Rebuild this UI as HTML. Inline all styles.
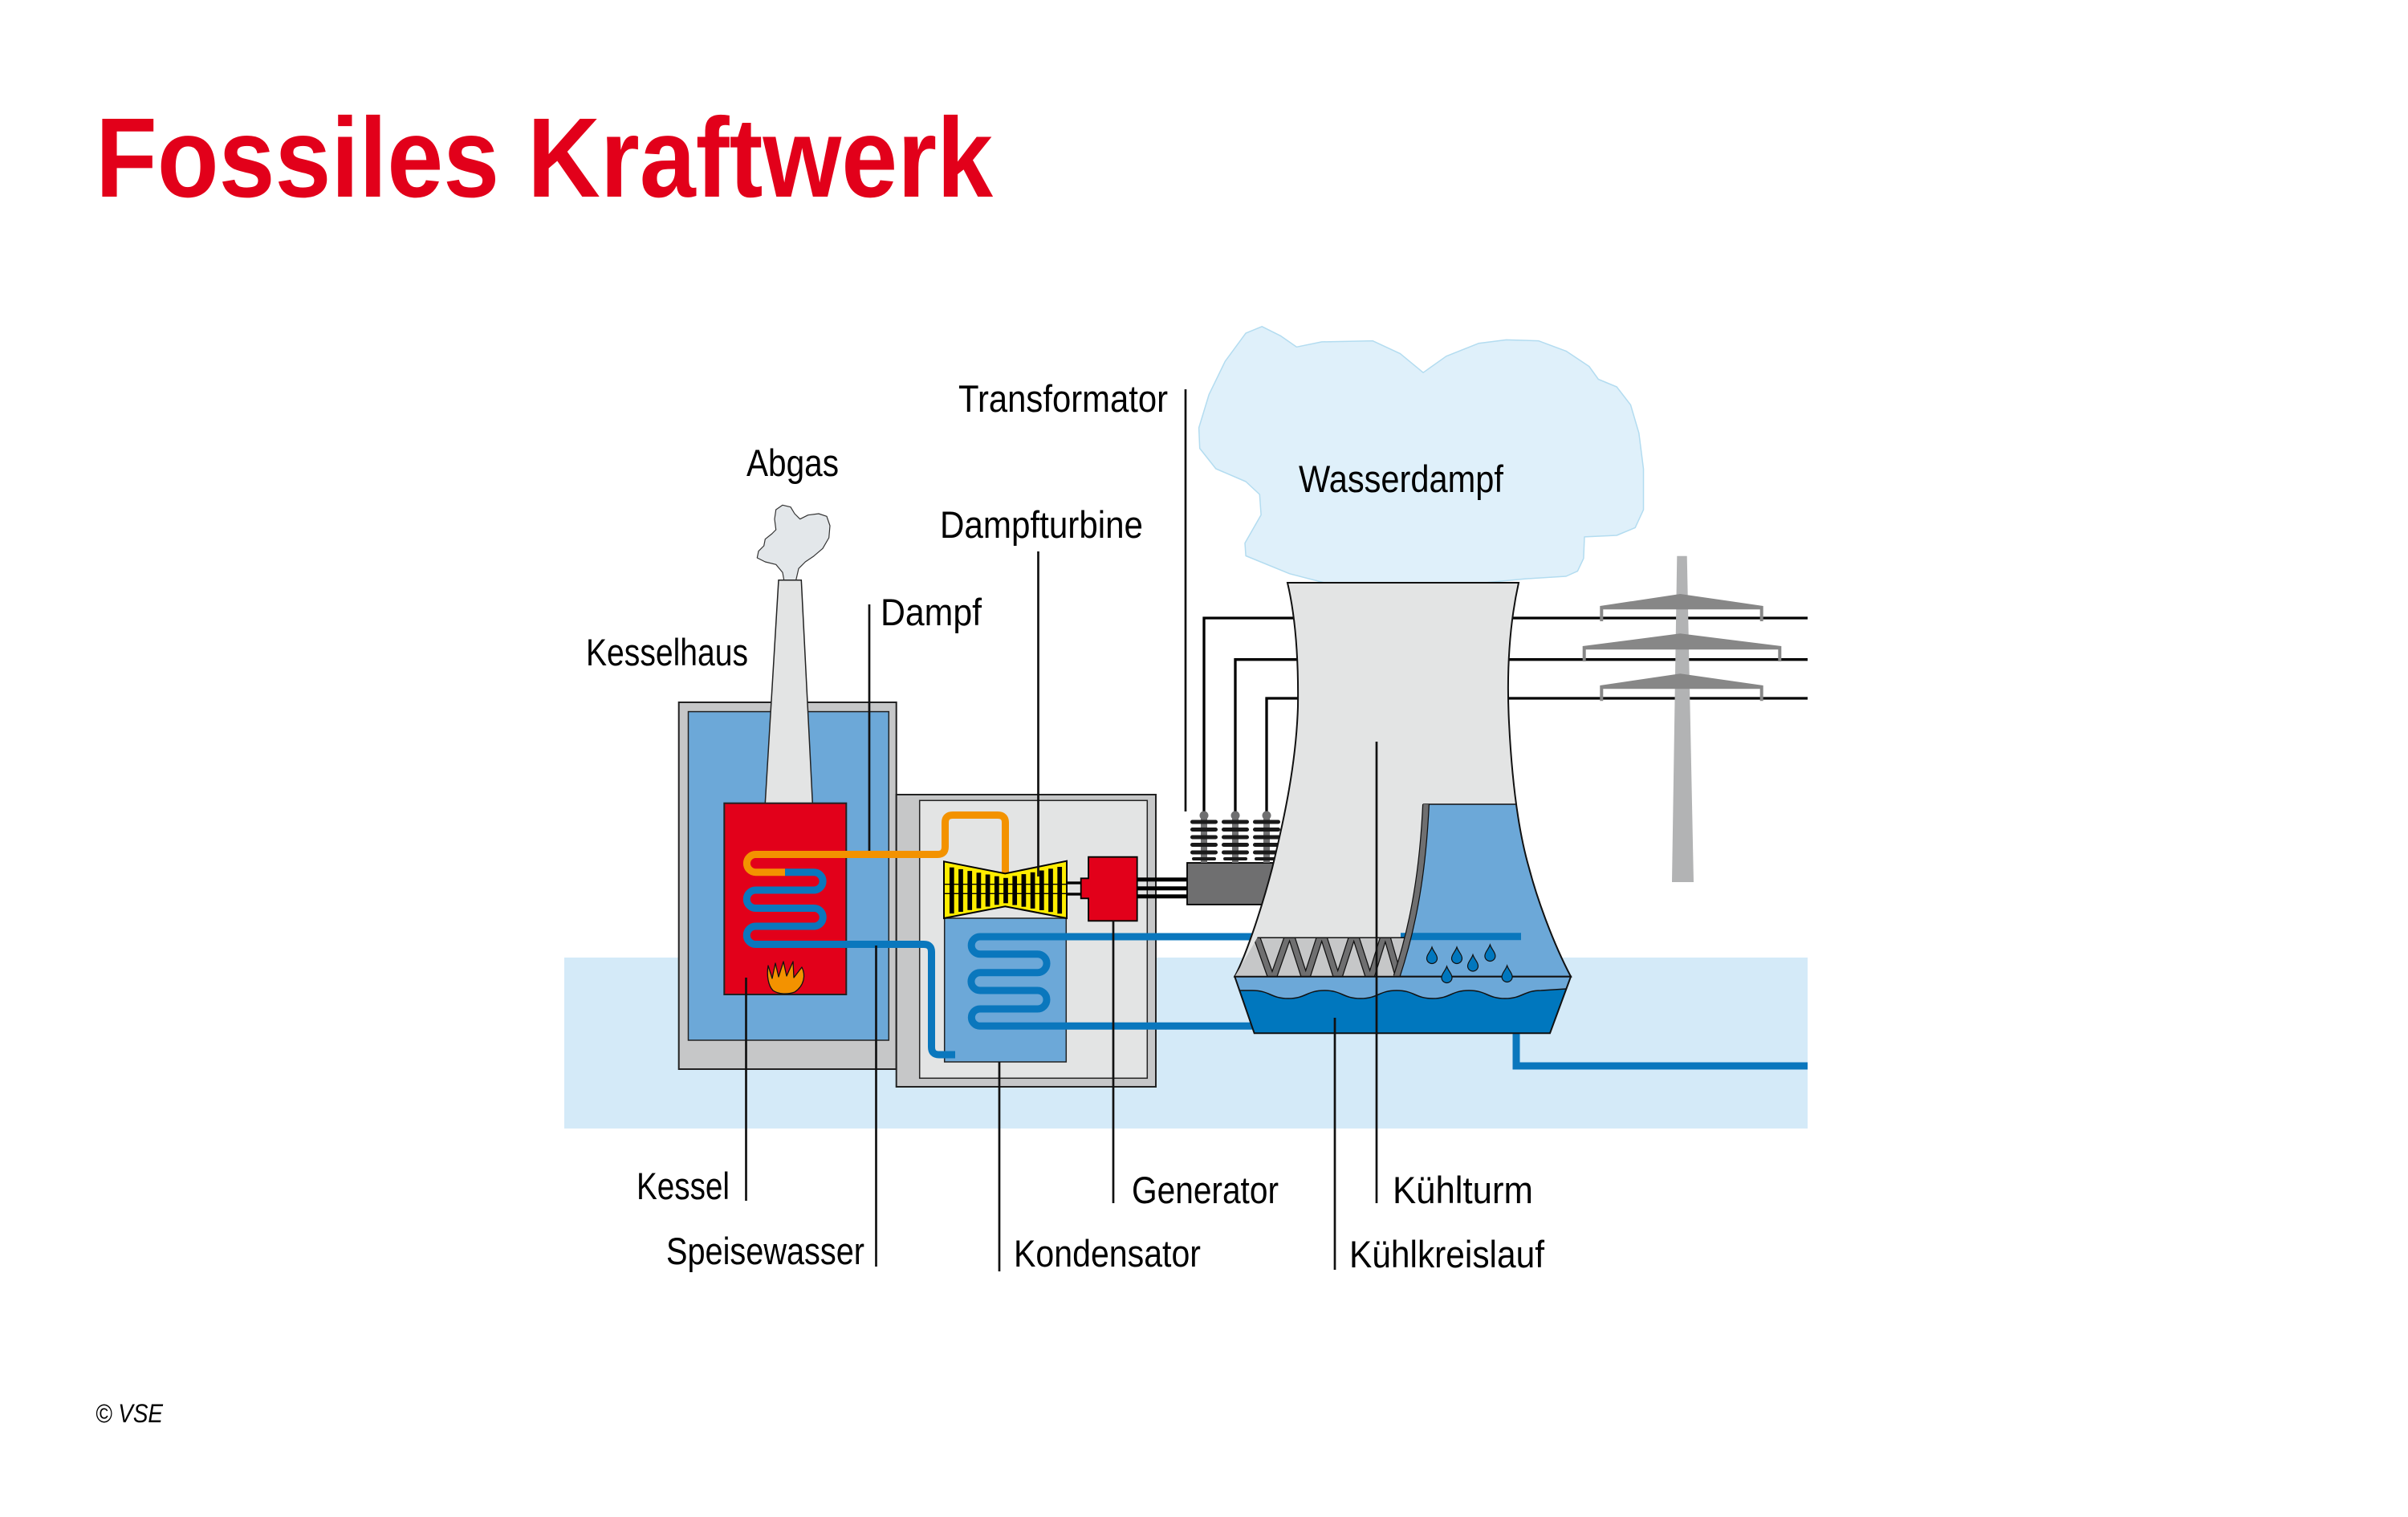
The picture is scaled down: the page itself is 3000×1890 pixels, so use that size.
<!DOCTYPE html>
<html><head><meta charset="utf-8"><style>html,body{margin:0;padding:0;background:#fff}svg{display:block}</style></head>
<body>
<svg width="3000" height="1890" viewBox="0 0 3000 1890" xmlns="http://www.w3.org/2000/svg">
<defs>
  <clipPath id="towerClip"><path d="M 1604,726 L 1892,726 C 1880,780 1877,840 1880,900 C 1883,960 1890,1030 1905,1081.5 C 1915,1120 1935,1175 1957,1216.7 L 1538.3,1216.7 C 1555,1185 1575,1120 1585,1081.5 C 1600,1020 1615,950 1617,880 C 1618,810 1612,760 1604,726 Z"/></clipPath>
  <clipPath id="latClip"><path d="M 1566.5,1168.3 L 1752,1168.3 L 1740,1216.7 L 1538.3,1216.7 Z"/></clipPath>
</defs>
<rect width="3000" height="1890" fill="#fff"/>

<!-- ground band -->
<rect x="703" y="1193" width="1549" height="213" fill="#d4eaf8"/>

<!-- cloud -->
<polygon points="1606.7,714.8 1552.1,692.5 1551,676.6 1571.1,641.5 1569.3,616 1552.1,600 1514.8,584 1494.7,558.6 1493.6,533 1506.2,491.6 1526.3,450.2 1552.1,415.1 1572.2,406.8 1595.2,418.3 1615.3,432.3 1646.8,425.9 1710,424.6 1744.4,440.6 1773.1,464.2 1801.8,443.8 1842,427.8 1876.5,423.4 1916.6,424.6 1951.1,437.4 1979.8,456.5 1991.3,472.5 2014.2,482 2031.5,504.4 2041.8,539.4 2047.5,584.1 2047.5,635.1 2037.2,657.4 2014.2,667 1974,668.9 1972.9,695.7 1965.4,711.6 1951.1,718 1899.4,721.2 1850,726 1650,726" fill="#dff0fa" stroke="#b3dcf0" stroke-width="1.5" stroke-linejoin="round"/>

<!-- smoke -->
<polygon points="976.7,722.7 975,713.3 966.7,703.3 953.3,700 943.3,695 945,686.7 951.7,680 953.3,671.7 961.7,665 966.7,660 965,646.7 966.7,635 975,629.3 985,631.7 990,640 996.7,646.7 1006.7,641.7 1020,640 1030,643.3 1034,655 1032.7,670 1025,683.3 1013.3,693.3 1003.3,700 995,708.3 991.7,722.7" fill="#e3e7ea" stroke="#333" stroke-width="1.2" stroke-linejoin="round"/>

<!-- Kesselhaus -->
<rect x="845.7" y="875" width="271" height="457" fill="#c6c7c8" stroke="#222" stroke-width="2"/>
<rect x="857.5" y="886.6" width="249.8" height="409.4" fill="#6ca8d8" stroke="#222" stroke-width="1.5"/>
<!-- Building 2 -->
<rect x="1116.7" y="990" width="323.3" height="364" fill="#c6c7c8" stroke="#222" stroke-width="2"/>
<rect x="1145.7" y="997.3" width="283.6" height="346" fill="#e3e4e4" stroke="#222" stroke-width="1.5"/>

<!-- chimney -->
<polygon points="970,722.7 998.3,722.7 1012.3,1000.7 953.3,1000.7" fill="#e3e4e4" stroke="#222" stroke-width="1.5"/>

<!-- boiler -->
<rect x="902.3" y="1000.7" width="152" height="238.3" fill="#e2001a" stroke="#222" stroke-width="2"/>
<!-- flame -->
<path d="M 963,1234 C 957,1228 955,1215 957,1203 L 962,1219 L 966,1200 L 970,1217 L 976,1198 L 980,1216 L 988,1198 L 989,1218 L 999,1205 C 1004,1215 1002,1228 990,1236 C 982,1239 970,1239 963,1234 Z" fill="#f39200" stroke="#111" stroke-width="1.3" stroke-linejoin="round"/>

<!-- condenser -->
<rect x="1176.7" y="1144" width="151.6" height="179" fill="#6ca8d8" stroke="#222" stroke-width="1.5"/>

<!-- pipes -->
<path d="M 978,1086.75 L 941.5,1086.75 A 11.125 11.125 0 0 1 941.5,1064.5 L 1168,1064.5 Q 1177.5,1064.5 1177.5,1055 L 1177.5,1025 Q 1177.5,1015.5 1187,1015.5 L 1243,1015.5 Q 1252.5,1015.5 1252.5,1025 L 1252.5,1090" fill="none" stroke="#f39200" stroke-width="9"/>
<path d="M 1190,1314 L 1170,1314 Q 1160.5,1314 1160.5,1304.5 L 1160.5,1186 Q 1160.5,1176.5 1151,1176.5 L 941.5,1176.5 A 11.25 11.25 0 0 1 941.5,1154 L 1014,1154 A 11.25 11.25 0 0 0 1014,1131.5 L 941.5,1131.5 A 11.25 11.25 0 0 1 941.5,1109 L 1014,1109 A 11.125 11.125 0 0 0 1014,1086.75 L 978,1086.75" fill="none" stroke="#0a77bd" stroke-width="9"/>
<path d="M 1895,1167 L 1221,1167 A 10.85 10.85 0 0 0 1221,1188.7 L 1292.5,1188.7 A 11.55 11.55 0 0 1 1292.5,1211.8 L 1221,1211.8 A 11.1 11.1 0 0 0 1221,1234 L 1292.5,1234 A 11.5 11.5 0 0 1 1292.5,1257 L 1221,1257 A 10.65 10.65 0 0 0 1221,1278.3 L 1561,1278.3" fill="none" stroke="#0a77bd" stroke-width="9"/>
<path d="M 1889,1280 L 1889,1328 L 2252,1328" fill="none" stroke="#0a77bd" stroke-width="9"/>

<!-- turbine -->
<polygon points="1176,1073.3 1252.3,1088.3 1329,1072.7 1329,1144 1252.3,1129.3 1176,1144" fill="#ffed00" stroke="#000" stroke-width="2"/>
<g fill="#000">
<rect x="1182.95" y="1080.7" width="5.7" height="57.4"/>
<rect x="1194.15" y="1082.9" width="5.7" height="53.1"/>
<rect x="1205.35" y="1085.1" width="5.7" height="48.7"/>
<rect x="1216.55" y="1087.3" width="5.7" height="44.3"/>
<rect x="1227.75" y="1089.5" width="5.7" height="40"/>
<rect x="1238.95" y="1091.7" width="5.7" height="35.6"/>
<rect x="1250.15" y="1093.8" width="5.7" height="31.5"/>
<rect x="1261.35" y="1091.4" width="5.7" height="36.2"/>
<rect x="1272.55" y="1089.1" width="5.7" height="40.6"/>
<rect x="1283.75" y="1086.8" width="5.7" height="45.1"/>
<rect x="1294.95" y="1084.5" width="5.7" height="49.5"/>
<rect x="1306.15" y="1082.3" width="5.7" height="53.9"/>
<rect x="1317.35" y="1080" width="5.7" height="58.3"/>
</g>
<line x1="1176" y1="1101.7" x2="1329" y2="1101.7" stroke="#000" stroke-width="1.3"/>
<line x1="1176" y1="1113.3" x2="1329" y2="1113.3" stroke="#000" stroke-width="1.3"/>
<!-- shaft -->
<rect x="1329" y="1098.3" width="18" height="3.4" fill="#000"/>
<rect x="1329" y="1112.3" width="18" height="3.4" fill="#000"/>
<!-- generator -->
<path d="M 1356,1067.7 H 1416.7 V 1147.3 H 1356 V 1119.3 H 1346.7 V 1094.3 H 1356 Z" fill="#e2001a" stroke="#000" stroke-width="1.8"/>
<rect x="1417" y="1093.3" width="62" height="5" fill="#000"/>
<rect x="1417" y="1104.3" width="62" height="5" fill="#000"/>
<rect x="1417" y="1114.3" width="62" height="5" fill="#000"/>

<!-- power lines -->
<g fill="none" stroke="#000" stroke-width="3.3">
<path d="M 1500,1012 V 770 H 2252"/>
<path d="M 1539,1012 V 821.7 H 2252"/>
<path d="M 1578,1012 V 870 H 2252"/>
</g>

<!-- transformer -->
<rect x="1479" y="1075" width="130" height="52" fill="#6f6f70" stroke="#000" stroke-width="1.8"/>
<g>
  <rect x="1496" y="1012" width="8" height="63" fill="#6f6f70"/>
  <circle cx="1500" cy="1016" r="5.5" fill="#6f6f70"/>
  <rect x="1535" y="1012" width="8" height="63" fill="#6f6f70"/>
  <circle cx="1539" cy="1016" r="5.5" fill="#6f6f70"/>
  <rect x="1574" y="1012" width="8" height="63" fill="#6f6f70"/>
  <circle cx="1578" cy="1016" r="5.5" fill="#6f6f70"/>
</g>
<g fill="#1a1a1a">
  <rect x="1483" y="1021.5" width="34" height="5" rx="2.5"/><rect x="1483" y="1031" width="34" height="5" rx="2.5"/><rect x="1483" y="1040.5" width="34" height="5" rx="2.5"/><rect x="1483" y="1050" width="34" height="5" rx="2.5"/><rect x="1483" y="1059.5" width="34" height="5" rx="2.5"/><rect x="1485" y="1068" width="30" height="4" rx="2"/>
  <rect x="1522" y="1021.5" width="34" height="5" rx="2.5"/><rect x="1522" y="1031" width="34" height="5" rx="2.5"/><rect x="1522" y="1040.5" width="34" height="5" rx="2.5"/><rect x="1522" y="1050" width="34" height="5" rx="2.5"/><rect x="1522" y="1059.5" width="34" height="5" rx="2.5"/><rect x="1524" y="1068" width="30" height="4" rx="2"/>
  <rect x="1561" y="1021.5" width="34" height="5" rx="2.5"/><rect x="1561" y="1031" width="34" height="5" rx="2.5"/><rect x="1561" y="1040.5" width="34" height="5" rx="2.5"/><rect x="1561" y="1050" width="34" height="5" rx="2.5"/><rect x="1561" y="1059.5" width="34" height="5" rx="2.5"/><rect x="1563" y="1068" width="30" height="4" rx="2"/>
</g>

<!-- cooling tower -->
<path d="M 1604,726 L 1892,726 C 1880,780 1877,840 1880,900 C 1883,960 1890,1030 1905,1081.5 C 1915,1120 1935,1175 1957,1216.7 L 1538.3,1216.7 C 1555,1185 1575,1120 1585,1081.5 C 1600,1020 1615,950 1617,880 C 1618,810 1612,760 1604,726 Z" fill="#e3e4e4"/>
<path d="M 1773,1002 L 1995,1002 L 1995,1217 L 1737,1217 C 1752,1165 1768,1100 1773,1002 Z" fill="#6ca8d8" clip-path="url(#towerClip)"/>
<line x1="1745" y1="1166.7" x2="1895" y2="1166.7" stroke="#0a77bd" stroke-width="9"/>
<path d="M 1604,726 L 1892,726 C 1880,780 1877,840 1880,900 C 1883,960 1890,1030 1905,1081.5 C 1915,1120 1935,1175 1957,1216.7 L 1538.3,1216.7 C 1555,1185 1575,1120 1585,1081.5 C 1600,1020 1615,950 1617,880 C 1618,810 1612,760 1604,726 Z" fill="none" stroke="#111" stroke-width="2"/>
<line x1="1773" y1="1002" x2="1888" y2="1002" stroke="#111" stroke-width="1.5"/>
<!-- lattice -->
<path d="M 1566.5,1168.3 L 1752,1168.3 L 1740,1216.7 L 1538.3,1216.7 Z" fill="#c6c7c8"/>
<g clip-path="url(#latClip)" fill="none" stroke-linejoin="miter">
<polyline points="1563,1160 1585,1222 1606.7,1160 1626.7,1222 1646.7,1160 1666.7,1222 1686.7,1160 1706.7,1222 1726,1160 1741,1212" stroke="#111" stroke-width="9"/>
<polyline points="1563,1160 1585,1222 1606.7,1160 1626.7,1222 1646.7,1160 1666.7,1222 1686.7,1160 1706.7,1222 1726,1160 1741,1212" stroke="#6f6f70" stroke-width="6.5"/>
</g>
<path d="M 1566.5,1168.3 L 1752,1168.3" stroke="#111" stroke-width="1.5"/>
<path d="M 1776.5,1002 C 1772,1100 1757,1165 1740,1216.7" fill="none" stroke="#111" stroke-width="9"/>
<path d="M 1776.5,1002 C 1772,1100 1757,1165 1740,1216.7" fill="none" stroke="#6f6f70" stroke-width="6.5"/>
<!-- base -->
<path d="M 1538.3,1216.7 L 1957,1216.7 L 1931,1287.3 L 1562.7,1287.3 Z" fill="#6ca8d8"/>
<path d="M 1544,1234 L 1560,1234 C 1582,1234 1583,1244 1605,1244 C 1627,1244 1628,1234 1650,1234 C 1672,1234 1673,1244 1695,1244 C 1717,1244 1718,1234 1740,1234 C 1762,1234 1763,1244 1785,1244 C 1807,1244 1808,1234 1830,1234 C 1852,1234 1853,1244 1875,1244 C 1897,1244 1898,1234 1920,1234 L 1951.4,1232 L 1931,1287.3 L 1562.7,1287.3 Z" fill="#0077be"/>
<path d="M 1544,1234 L 1560,1234 C 1582,1234 1583,1244 1605,1244 C 1627,1244 1628,1234 1650,1234 C 1672,1234 1673,1244 1695,1244 C 1717,1244 1718,1234 1740,1234 C 1762,1234 1763,1244 1785,1244 C 1807,1244 1808,1234 1830,1234 C 1852,1234 1853,1244 1875,1244 C 1897,1244 1898,1234 1920,1234 L 1951.4,1232" fill="none" stroke="#111" stroke-width="1.5"/>
<path d="M 1538.3,1216.7 L 1957,1216.7 L 1931,1287.3 L 1562.7,1287.3 Z" fill="none" stroke="#111" stroke-width="2"/>
<!-- drops -->
<g fill="#0077be" stroke="#111" stroke-width="1.2">
<path d="M 1784,1180 C 1786,1186 1790.5,1189 1790.5,1194 A 6.5 6.5 0 0 1 1777.5,1194 C 1777.5,1189 1782,1186 1784,1180 Z"/>
<path d="M 1815,1180 C 1817,1186 1821.5,1189 1821.5,1194 A 6.5 6.5 0 0 1 1808.5,1194 C 1808.5,1189 1813,1186 1815,1180 Z"/>
<path d="M 1835,1189.5 C 1837,1195.5 1841.5,1198.5 1841.5,1203.5 A 6.5 6.5 0 0 1 1828.5,1203.5 C 1828.5,1198.5 1833,1195.5 1835,1189.5 Z"/>
<path d="M 1856.4,1177 C 1858.4,1183 1862.9,1186 1862.9,1191 A 6.5 6.5 0 0 1 1849.9,1191 C 1849.9,1186 1854.4,1183 1856.4,1177 Z"/>
<path d="M 1802.5,1204 C 1804.5,1210 1809,1213 1809,1218 A 6.5 6.5 0 0 1 1796,1218 C 1796,1213 1800.5,1210 1802.5,1204 Z"/>
<path d="M 1877.6,1203 C 1879.6,1209 1884.1,1212 1884.1,1217 A 6.5 6.5 0 0 1 1871.1,1217 C 1871.1,1212 1875.6,1209 1877.6,1203 Z"/>
</g>

<!-- pylon -->
<polygon points="2089.3,692.7 2101.7,692.7 2110,1099 2083,1099" fill="#b2b3b4"/>
<g fill="#878787">
<polygon points="1993.3,755 2093.3,740 2196.7,755 2196.7,774 2192.7,774 2192.7,759.3 1997.3,759.3 1997.3,774 1993.3,774"/>
<polygon points="1971.7,805 2093.3,789.3 2219.3,805 2219.3,824 2215.3,824 2215.3,809.3 1975.7,809.3 1975.7,824 1971.7,824"/>
<polygon points="1993.3,854 2093.3,839.3 2196.7,854 2196.7,873.3 2192.7,873.3 2192.7,858.3 1997.3,858.3 1997.3,873.3 1993.3,873.3"/>
</g>

<!-- leader lines -->
<g stroke="#111" stroke-width="2.7" fill="none">
<path d="M 1477,485 V 1011"/>
<path d="M 1293.5,687 V 1092"/>
<path d="M 1083,753 V 1060"/>
<path d="M 929.5,1218 V 1496"/>
<path d="M 1091.5,1178 V 1578"/>
<path d="M 1245,1323 V 1584"/>
<path d="M 1387,1147 V 1499"/>
<path d="M 1715,924 V 1499"/>
<path d="M 1663,1268 V 1582"/>
</g>

<!-- text -->
<text x="119" y="245" font-family="Liberation Sans, sans-serif" font-weight="bold" font-size="141" fill="#e2001a" textLength="1118" lengthAdjust="spacingAndGlyphs">Fossiles Kraftwerk</text>
<g font-family="Liberation Sans, sans-serif" font-size="47" fill="#000">
<text x="1194" y="513" textLength="261" lengthAdjust="spacingAndGlyphs">Transformator</text>
<text x="930" y="593" textLength="115" lengthAdjust="spacingAndGlyphs">Abgas</text>
<text x="1618" y="613" textLength="255" lengthAdjust="spacingAndGlyphs">Wasserdampf</text>
<text x="1171" y="670" textLength="253" lengthAdjust="spacingAndGlyphs">Dampfturbine</text>
<text x="1097" y="779" textLength="126" lengthAdjust="spacingAndGlyphs">Dampf</text>
<text x="730" y="829" textLength="202" lengthAdjust="spacingAndGlyphs">Kesselhaus</text>
<text x="793" y="1494" textLength="116" lengthAdjust="spacingAndGlyphs">Kessel</text>
<text x="830" y="1575" textLength="247" lengthAdjust="spacingAndGlyphs">Speisewasser</text>
<text x="1263" y="1578" textLength="233" lengthAdjust="spacingAndGlyphs">Kondensator</text>
<text x="1410" y="1499" textLength="183" lengthAdjust="spacingAndGlyphs">Generator</text>
<text x="1735" y="1499" textLength="175" lengthAdjust="spacingAndGlyphs">Kühlturm</text>
<text x="1681" y="1579" textLength="243" lengthAdjust="spacingAndGlyphs">Kühlkreislauf</text>
</g>
<text x="119" y="1772" font-family="Liberation Sans, sans-serif" font-style="italic" font-size="32" fill="#000" textLength="84" lengthAdjust="spacingAndGlyphs">© VSE</text>
</svg>
</body></html>
